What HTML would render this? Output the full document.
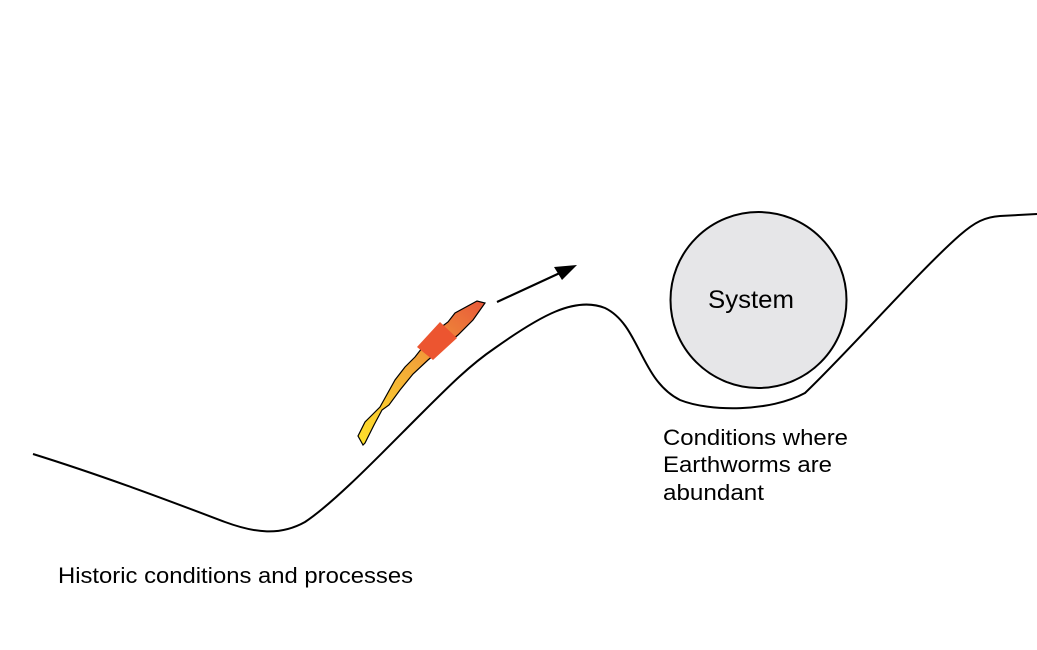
<!DOCTYPE html>
<html><head><meta charset="utf-8"><style>
html,body{margin:0;padding:0;background:#fff;}
svg{display:block;}
text{font-family:"Liberation Sans",Arial,sans-serif;fill:#000;}
</style></head><body>
<svg width="1037" height="650" viewBox="0 0 1037 650" xmlns="http://www.w3.org/2000/svg">
<defs>
<linearGradient id="g" x1="363" y1="445" x2="483" y2="302" gradientUnits="userSpaceOnUse">
<stop offset="0" stop-color="#ffe02a"/>
<stop offset="0.5" stop-color="#f3a838"/>
<stop offset="1" stop-color="#e85a3a"/>
</linearGradient>
</defs>
<path d="M33,454 C110,478 180,505 225,522 C255,533 280,536 305,522 C335,502 380,455 420,415 C450,385 470,365 495,348 C540,316 575,296 605,308 C640,325 640,380 680,400 C710,412 770,412 805,393 C850,350 920,270 960,235 C975,222 985,217 1000,216 L1037,214" fill="none" stroke="#000" stroke-width="2"/>
<circle cx="758.5" cy="300" r="88" fill="#e6e6e8" stroke="#000" stroke-width="2"/>
<text x="708" y="308" font-size="25" textLength="86" lengthAdjust="spacingAndGlyphs">System</text>
<path d="M363,445 L358,436 L360,432 L365,422 L372,415 L380,407 L385,398 L395,380 L405,367 L415,357 L422,348 L440,328 L448,322 L455,313 L477,301 L485,303 L473,320 L458,335 L440,350 L428,360 L413,374 L400,390 L389,405 L382,410 L374,425 L365,443 Z" fill="url(#g)" stroke="#000" stroke-width="1.2"/>
<polygon points="417,347 440,322 457,338 433,360" fill="#ec5530"/>
<line x1="497" y1="302" x2="562" y2="272" stroke="#000" stroke-width="2.2"/>
<polygon points="577,265 554,267 562,280" fill="#000"/>
<text x="663" y="445" font-size="22" textLength="185" lengthAdjust="spacingAndGlyphs">Conditions where</text>
<text x="663" y="472" font-size="22" textLength="169" lengthAdjust="spacingAndGlyphs">Earthworms are</text>
<text x="663" y="500" font-size="22" textLength="101" lengthAdjust="spacingAndGlyphs">abundant</text>
<text x="58" y="583" font-size="22" textLength="355" lengthAdjust="spacingAndGlyphs">Historic conditions and processes</text>
</svg>
</body></html>
